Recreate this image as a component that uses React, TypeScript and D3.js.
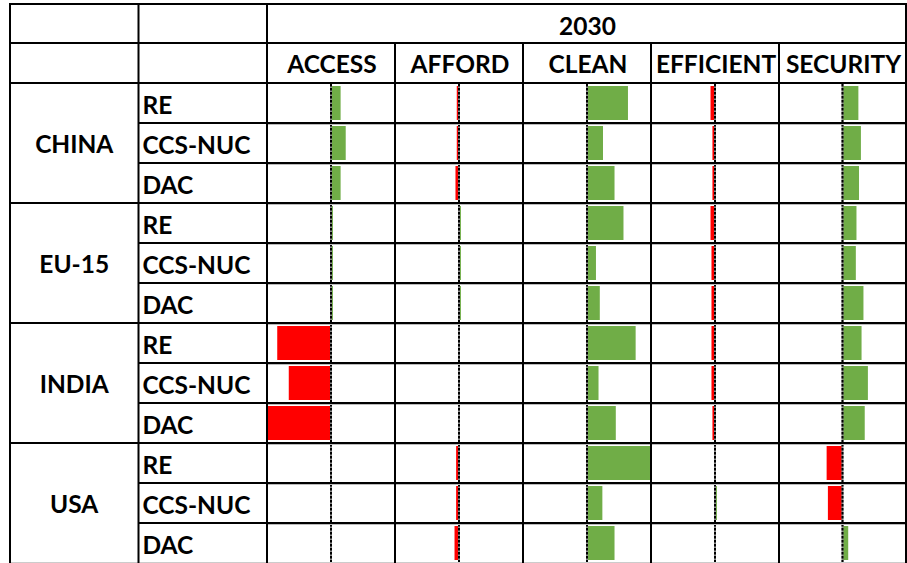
import React from "react";
import * as d3 from "d3";

const YEAR = "2030";
const COUNTRIES = ["CHINA", "EU-15", "INDIA", "USA"];
const TECHS = ["RE", "CCS-NUC", "DAC"];
const CRITERIA = ["ACCESS", "AFFORD", "CLEAN", "EFFICIENT", "SECURITY"];

// normalized scores (-1..1), rows ordered CHINA(RE,CCS-NUC,DAC), EU-15, INDIA, USA
const ACCESS = [0.15, 0.23, 0.15, 0.03, 0.03, 0.03, -0.84, -0.66, -1.0, 0, 0, 0];
const AFFORD = [-0.035, -0.035, -0.055, 0.03, 0.03, 0.03, 0, 0, 0, -0.045, -0.045, -0.07];
const CLEAN = [0.64, 0.25, 0.43, 0.57, 0.14, 0.2, 0.76, 0.18, 0.45, 1.0, 0.24, 0.43];
const EFFICIENT = [-0.07, -0.04, -0.04, -0.07, -0.055, -0.055, -0.055, -0.055, -0.04, 0, 0.03, 0];
const SECURITY = [0.25, 0.29, 0.26, 0.22, 0.21, 0.33, 0.3, 0.4, 0.35, -0.25, -0.23, 0.09];

const SERIES = [ACCESS, AFFORD, CLEAN, EFFICIENT, SECURITY];

const W = 907;
const H = 563;
const FONT = "Lato, 'Open Sans', sans-serif";
const GREEN = "#70AD47";
const RED = "#FF0000";

export default function App() {
  const left = 10;
  const right = 906;
  const top = 4;
  const head1 = 43;
  const head2 = 83;
  const bottom = 563;
  const nRows = COUNTRIES.length * TECHS.length;

  const colEdges = [left, 138.5, 267, 395, 523, 651, 779, right];
  const y = d3.scaleBand<number>().domain(d3.range(nRows)).range([head2, bottom]).padding(0);
  const rowH = y.step();

  const xScales = CRITERIA.map((_, i) =>
    d3.scaleLinear().domain([-1, 1]).range([colEdges[i + 2], colEdges[i + 3]])
  );

  const lines: React.ReactNode[] = [];
  const k = (s: string) => s + lines.length;
  lines.push(<line key={k("t")} x1={left} x2={right} y1={top} y2={top} stroke="#000" strokeWidth={2} />);
  lines.push(<line key={k("h1")} x1={left} x2={right} y1={head1} y2={head1} stroke="#000" strokeWidth={2} />);
  lines.push(<line key={k("h2")} x1={left} x2={right} y1={head2} y2={head2} stroke="#000" strokeWidth={2} />);
  for (let r = 1; r < nRows; r++) {
    const yy = y(r)!;
    const isGroup = r % TECHS.length === 0;
    const x1 = isGroup ? left : colEdges[1];
    lines.push(<line key={k("rg")} x1={colEdges[2]} x2={right} y1={yy + 1.5} y2={yy + 1.5} stroke="#bbb" strokeWidth={1} />);
    lines.push(<line key={k("r")} x1={x1} x2={right} y1={yy} y2={yy} stroke="#000" strokeWidth={2} />);
  }
  lines.push(<line key={k("b")} x1={left} x2={right} y1={bottom - 0.5} y2={bottom - 0.5} stroke="#ccc" strokeWidth={1} />);
  colEdges.forEach((cx, i) => {
    const y1 = i >= 3 && i < colEdges.length - 1 ? head1 : top;
    lines.push(<line key={k("v")} x1={cx} x2={cx} y1={y1 - 1} y2={bottom} stroke="#000" strokeWidth={2} />);
  });

  const bars: React.ReactNode[] = [];
  const zeros: React.ReactNode[] = [];
  SERIES.forEach((vals, ci) => {
    const x = xScales[ci];
    const x0 = x(0);
    vals.forEach((v, ri) => {
      const y0 = y(ri)!;
      const xa = Math.min(x(v), x0);
      const w = Math.abs(x(v) - x0);
      if (w > 0) {
        bars.push(
          <rect key={`b${ci}-${ri}`} x={xa} y={y0 + 3} width={w} height={rowH - 6} fill={v < 0 ? RED : GREEN} />
        );
      }
      zeros.push(
        <g key={`z${ci}-${ri}`}>
          <line x1={x0} x2={x0} y1={y0 + 1} y2={y0 + rowH - 1} stroke="#8a8a8a" strokeWidth={2} />
          <line x1={x0} x2={x0} y1={y0 + 1} y2={y0 + rowH - 1} stroke="#000" strokeWidth={2} strokeDasharray="2.5 1.5" />
        </g>
      );
    });
  });

  const textStyle = { fontFamily: FONT, fontWeight: 700, fill: "#000" } as const;
  const FS = 24.5;

  return (
    <svg width={W} height={H} style={{ position: "absolute", left: 0, top: 0, background: "#fff" }}>
      <rect x={0} y={0} width={W} height={H} fill="#fff" />
      {bars}
      {zeros}
      {lines}
      <text x={(colEdges[2] + right) / 2 + 1} y={top + 31} textAnchor="middle" fontSize={FS} {...textStyle}>
        {YEAR}
      </text>
      {CRITERIA.map((c, i) => (
        <text key={c} x={(colEdges[i + 2] + colEdges[i + 3]) / 2 + 1} y={head1 + 30} textAnchor="middle" fontSize={FS} {...textStyle}>
          {c}
        </text>
      ))}
      {COUNTRIES.map((c, gi) => {
        const yTop = y(gi * TECHS.length)!;
        const cy = yTop + (rowH * TECHS.length) / 2;
        return (
          <text key={c} x={(colEdges[0] + colEdges[1]) / 2} y={cy + 10} textAnchor="middle" fontSize={FS} {...textStyle}>
            {c}
          </text>
        );
      })}
      {COUNTRIES.map((c, gi) =>
        TECHS.map((t, ti) => {
          const ri = gi * TECHS.length + ti;
          return (
            <text key={c + t} x={colEdges[1] + 4} y={y(ri)! + 31} fontSize={FS} {...textStyle}>
              {t}
            </text>
          );
        })
      )}
    </svg>
  );
}
